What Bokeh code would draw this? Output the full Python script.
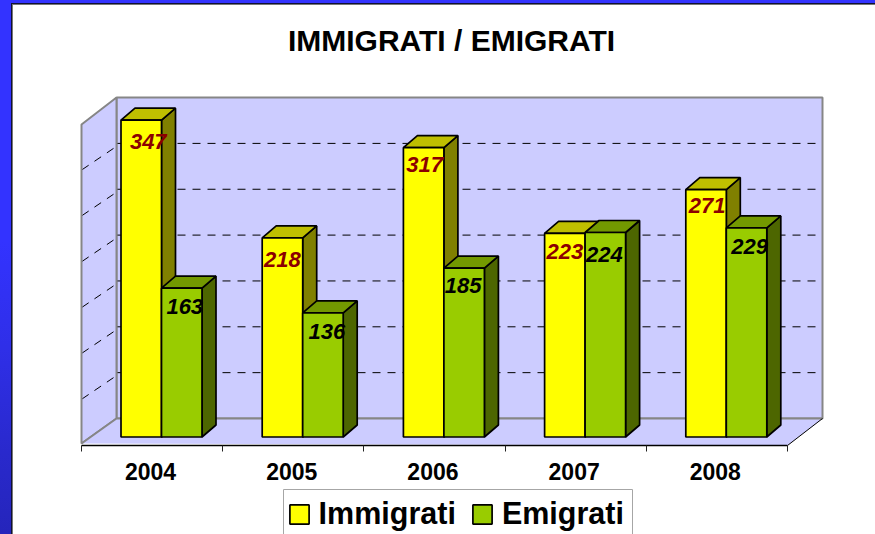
from bokeh.plotting import figure
from bokeh.models import Legend, LegendItem, FixedTicker, ColumnDataSource, Range1d
from bokeh.core.properties import value
from bokeh.embed import file_html
from bokeh.resources import INLINE

# ---- data
years = ["2004", "2005", "2006", "2007", "2008"]
immigrati = [347, 218, 317, 223, 271]
emigrati = [163, 136, 185, 224, 229]
grid_values = [50, 100, 150, 200, 250, 300]
wall_top_value = 350
title_text = "IMMIGRATI / EMIGRATI"

# ---- label nudges, in pixels, from the centre-top of each bar
imm_dx = [7, 0, 1, 0, 1]
imm_dy = [21, 22, 17, 18, 16]
emi_dx = [3, 4, -1, -1, 3]
emi_dy = [18, 19, 17, 22, 19]

# ---- page geometry (pixels)
W, H = 875, 534
FX0, FY0, AXIS_Y = 13, 5, 445    # frame left, top, axis line
AX0, GROUP_W = 81, 141.2         # x of first tick, width of a group
BASE_Y, PX_PER_UNIT = 436.5, 0.913 # y of the bars' base, value scale
BACK_Y, BACK_PER_UNIT = 418, 0.917
WALL_DX, WALL_DY = 35, 25
BAR_PAD, BAR_W = 39.5, 40.5
DEPTH_X, DEPTH_Y = 14, 12
OUTLINE = 1.7

def xd(px):
    return (px - AX0) / GROUP_W

def yd(py):
    return (BASE_Y - py) / PX_PER_UNIT

FONT = "Liberation Sans"

p = figure(
    width=W, height=H, output_backend="svg", toolbar_location=None,
    x_range=Range1d(xd(FX0), xd(W)), y_range=Range1d(yd(H), yd(FY0)),
    y_axis_location=None, min_border_left=FX0, min_border_top=FY0,
    min_border_right=0, min_border_bottom=0,
    border_fill_color=None, background_fill_color=None, outline_line_color=None,
)
p.grid.visible = False
p.styles = {
    "position": "fixed", "left": "0px", "top": "0px",
    "background": (
        f"linear-gradient(#fff,#fff) {FX0}px {FY0}px / 100% 100% no-repeat,"
        f"linear-gradient(#777,#777) {FX0-1}px {FY0-1}px / 100% 100% no-repeat,"
        f"linear-gradient(#111133,#111133) {FX0-2}px {FY0-2}px / 100% 100% no-repeat,"
        "linear-gradient(#3333ff 0%,#3333ff 45%,#2f2fe8 65%,#2929cc 85%,#2525bb 100%)"
    )
}

# ---- 3D walls
WALL = "#CCCCFF"
EDGE = "#868686"
back_top = BACK_Y - wall_top_value * BACK_PER_UNIT
right = AX0 + 5 * GROUP_W
p.patch([xd(AX0 + WALL_DX), xd(right + WALL_DX), xd(right + WALL_DX), xd(AX0 + WALL_DX)],
        [yd(back_top), yd(back_top), yd(BACK_Y), yd(BACK_Y)],
        fill_color=WALL, line_color=EDGE, line_width=2)
p.patch([xd(AX0), xd(AX0 + WALL_DX), xd(AX0 + WALL_DX), xd(AX0)],
        [yd(back_top + WALL_DY + 2), yd(back_top), yd(BACK_Y), yd(BACK_Y + WALL_DY)],
        fill_color=WALL, line_color=EDGE, line_width=2)
p.patch([xd(AX0), xd(AX0 + WALL_DX), xd(right + WALL_DX), xd(right)],
        [yd(BACK_Y + WALL_DY), yd(BACK_Y), yd(BACK_Y), yd(AXIS_Y)],
        fill_color=WALL, line_color=None)
p.line([xd(AX0), xd(AX0 + WALL_DX), xd(right + WALL_DX)],
       [yd(BACK_Y + WALL_DY), yd(BACK_Y), yd(BACK_Y)], line_color=EDGE, line_width=2)
p.line([xd(right), xd(right + WALL_DX)], [yd(AXIS_Y), yd(BACK_Y)], line_color="black", line_width=1)

# ---- dashed gridlines on both walls
for v in grid_values:
    y_back = BACK_Y - v * BACK_PER_UNIT
    p.line([xd(AX0 + WALL_DX + 1), xd(right + WALL_DX - 1)], [yd(y_back), yd(y_back)],
           line_color="black", line_width=1, line_dash="8 7")
    p.line([xd(AX0 + WALL_DX - 3), xd(AX0 + 1)], [yd(y_back + 5), yd(y_back + 26)],
           line_color="black", line_width=1, line_dash="8 7")

# ---- bars
def bar_set(values, start_px, front, side, top, name):
    ddx, ddy = DEPTH_X / GROUP_W, DEPTH_Y / PX_PER_UNIT
    lefts = [xd(AX0 + start_px) + i for i in range(len(values))]
    rights = [l + BAR_W / GROUP_W for l in lefts]
    p.patches([[r, r + ddx, r + ddx, r] for r in rights],
              [[0, ddy, v + ddy, v] for v in values],
              fill_color=side, line_color="black", line_width=OUTLINE)
    p.patches([[l, l + ddx, r + ddx, r] for l, r in zip(lefts, rights)],
              [[v, v + ddy, v + ddy, v] for v in values],
              fill_color=top, line_color="black", line_width=OUTLINE)
    return p.quad(left=lefts, right=rights, top=values, bottom=[0] * len(values),
                  fill_color=front, line_color="black", line_width=OUTLINE, name=name), lefts, rights

r_imm, li, ri = bar_set(immigrati, BAR_PAD, "#FFFF00", "#808000", "#BFBF00", "Immigrati")
r_emi, le, re = bar_set(emigrati, BAR_PAD + BAR_W, "#99CC00", "#4D6600", "#739900", "Emigrati")

def labels(lefts, rights, values, dx, dy, color):
    src = ColumnDataSource(dict(
        x=[(a + b) / 2 for a, b in zip(lefts, rights)], y=values,
        t=[str(v) for v in values], dx=dx, dy=dy))
    p.text("x", "y", text="t", x_offset="dx", y_offset="dy", source=src,
           text_align="center", text_baseline="middle", text_color=color,
           text_font=value(FONT), text_font_style="bold italic", text_font_size="22px")

labels(li, ri, immigrati, imm_dx, imm_dy, "#8B0000")
labels(le, re, emigrati, emi_dx, emi_dy, "black")

# ---- title
p.text([xd(451)], [yd(40)], text=[title_text], text_align="center", text_baseline="middle",
       text_color="black", text_font=value(FONT), text_font_style="bold", text_font_size="30px")

# ---- category axis: ticks between the groups, labels on their centres
tick_shift = -0.011
ax = p.xaxis[0]
ax.fixed_location = yd(AXIS_Y)
ax.bounds = (0, len(years))
ax.ticker = FixedTicker(ticks=[i + 0.5 + tick_shift for i in range(len(years))],
                        minor_ticks=list(range(len(years) + 1)))
ax.major_label_overrides = {i + 0.5 + tick_shift: y for i, y in enumerate(years)}
ax.major_tick_line_color = None
ax.major_tick_in = 0
ax.major_tick_out = 0
ax.minor_tick_in = 0
ax.minor_tick_out = 6
ax.minor_tick_line_color = "#222222"
ax.axis_line_color = "black"
ax.axis_line_width = 1.5
ax.major_label_standoff = 11
ax.major_label_text_font = FONT
ax.major_label_text_font_style = "bold"
ax.major_label_text_font_size = "23px"
ax.major_label_text_color = "black"

# ---- legend: frame drawn behind, entries from Bokeh's own legend
p.quad(left=[xd(283)], right=[xd(632)], top=[yd(489)], bottom=[yd(H + 3)],
       fill_color="white", line_color="#A6A6A6", line_width=1)
legend = Legend(
    items=[LegendItem(label="Immigrati", renderers=[r_imm]),
           LegendItem(label="Emigrati", renderers=[r_emi])],
    orientation="horizontal", location=(289.6 - 3 - FX0, 3),
    glyph_width=24, glyph_height=24, label_standoff=8, spacing=14,
    padding=3, margin=0, border_line_color=None,
    background_fill_alpha=0,
    label_text_font=FONT, label_text_font_style="bold", label_text_font_size="30.5px",
    label_text_color="black",
)
p.add_layout(legend, "center")

open("out.html", "w").write(file_html(p, INLINE))
